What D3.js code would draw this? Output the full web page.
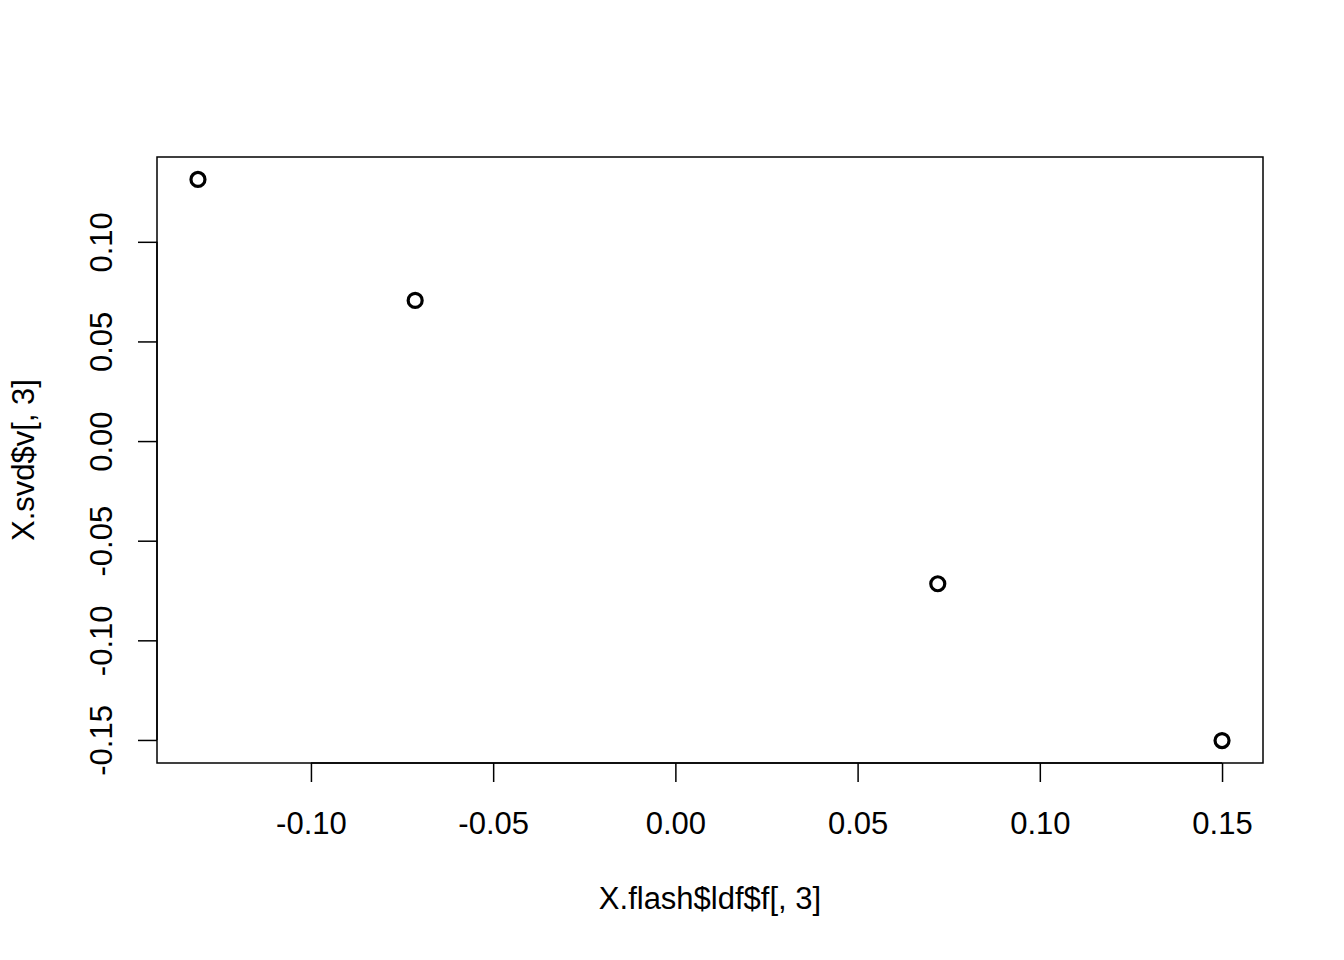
<html lang="en">
<head>
<meta charset="utf-8">
<title>X.svd$v vs X.flash$ldf$f</title>
<style>
  body { margin: 0; background-color: white; }
  svg { display: block; }
  .axis text { font-family: "Liberation Sans", Arial, sans-serif; font-size: 31px; fill: black; }
  .axis path, .axis line { stroke: black; stroke-width: 1.5px; fill: none; }
  .title { font-family: "Liberation Sans", Arial, sans-serif; font-size: 31px; fill: black; }
</style>
</head>
<body>
<script src="https://cdnjs.cloudflare.com/ajax/libs/d3/7.8.5/d3.min.js"></script>
<script>
// data
var xVals = [-0.1310, -0.0714, 0.0720, 0.1500];
var yVals = [0.1313, 0.0706, -0.0716, -0.1503];
var xTicks = [-0.10, -0.05, 0.00, 0.05, 0.10, 0.15];
var yTicks = [-0.15, -0.10, -0.05, 0.00, 0.05, 0.10];
var xLabel = "X.flash$ldf$f[, 3]";
var yLabel = "X.svd$v[, 3]";

var fullWidth = 1344, fullHeight = 960;
var box = {left: 157, right: 1263, top: 157, bottom: 763};

var svg = d3.select("body").append("svg")
  .attr("width", fullWidth)
  .attr("height", fullHeight);

// R style: extend data range by 4% each side
function rDomain(v) {
  var e = d3.extent(v), pad = (e[1] - e[0]) * 0.04;
  return [e[0] - pad, e[1] + pad];
}

var xScale = d3.scaleLinear().domain(rDomain(xVals)).range([box.left, box.right]);
var yScale = d3.scaleLinear().domain(rDomain(yVals)).range([box.bottom, box.top]);

// R prints a plain hyphen for negatives
var fmt = function(d) { return d3.format(".2f")(d).replace("\u2212", "-"); };

var xAxis = d3.axisBottom(xScale).tickValues(xTicks).tickFormat(fmt).tickSize(19);
var yAxis = d3.axisLeft(yScale).tickValues(yTicks).tickFormat(fmt).tickSize(19);

var gx = svg.append("g").attr("class", "axis")
  .attr("transform", "translate(0," + box.bottom + ")")
  .call(xAxis);
gx.select(".domain").attr("d", "M" + xScale(xTicks[0]) + ",0H" + xScale(xTicks[xTicks.length - 1]));
gx.selectAll(".tick text").attr("y", 71).attr("dy", null);

var gy = svg.append("g").attr("class", "axis")
  .attr("transform", "translate(" + box.left + ",0)")
  .call(yAxis);
gy.select(".domain").attr("d", "M0," + yScale(yTicks[0]) + "V" + yScale(yTicks[yTicks.length - 1]));
gy.selectAll(".tick text")
  .attr("x", null).attr("dy", null)
  .attr("text-anchor", "middle")
  .attr("transform", "translate(-45,0) rotate(-90)");

// plot box
svg.append("rect")
  .attr("x", box.left).attr("y", box.top)
  .attr("width", box.right - box.left).attr("height", box.bottom - box.top)
  .attr("fill", "none").attr("stroke", "black").attr("stroke-width", 1.5);

// points
svg.append("g").selectAll("circle")
  .data(xVals).enter()
  .append("circle")
  .attr("cx", function(d) { return xScale(d); })
  .attr("cy", function(d, i) { return yScale(yVals[i]); })
  .attr("r", 7)
  .attr("fill", "none")
  .attr("stroke", "black")
  .attr("stroke-width", 3.2);

svg.append("text").attr("class", "title")
  .attr("x", (box.left + box.right) / 2).attr("y", 909)
  .attr("text-anchor", "middle")
  .text(xLabel);

svg.append("text").attr("class", "title")
  .attr("transform", "translate(34," + (box.top + box.bottom) / 2 + ") rotate(-90)")
  .attr("text-anchor", "middle")
  .text(yLabel);
</script>
</body>
</html>
